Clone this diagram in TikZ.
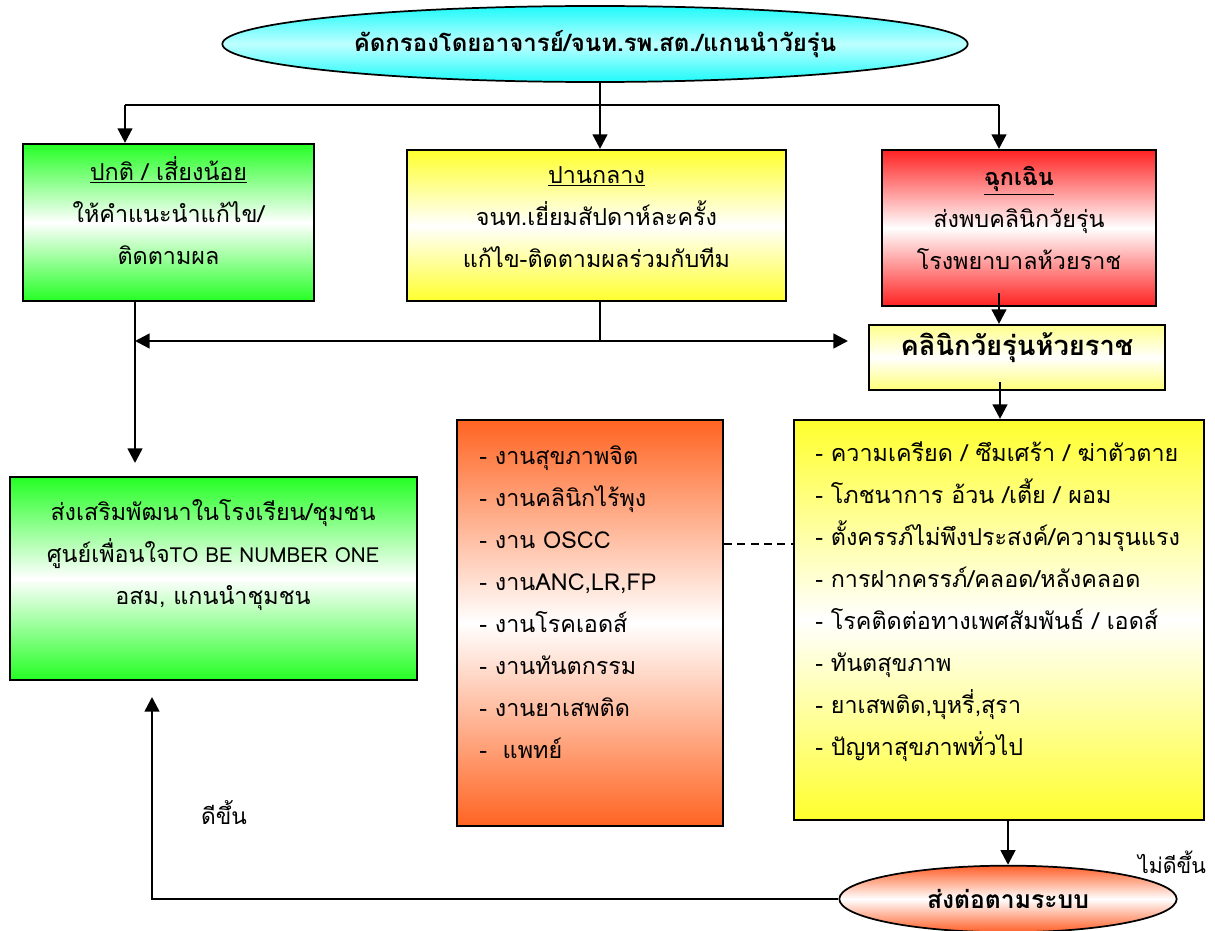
\documentclass[tikz,border=0pt]{standalone}
\usepackage{fontspec}
\setmainfont{Loma}[Script=Thai]
\usetikzlibrary{arrows.meta,fit,shapes.geometric}
\definecolor{cgreen}{RGB}{36,255,36}
\definecolor{cyellow}{RGB}{255,255,45}
\definecolor{cred}{RGB}{255,34,34}
\definecolor{corange}{RGB}{255,100,34}
\definecolor{ccyan}{RGB}{30,250,250}
\definecolor{ccyanl}{RGB}{190,255,255}
\definecolor{clight}{RGB}{255,255,140}
\definecolor{cell}{RGB}{255,95,40}
\newcommand{\lat}[1]{{\fontsize{15.5}{31.5}\selectfont #1}}
\begin{document}
\begin{tikzpicture}[x=0.75pt,y=-0.75pt,
  box/.style={draw=black, line width=1.6pt, rectangle, inner sep=0pt},
  gshade/.style={top color=cgreen, bottom color=cgreen, middle color=white},
  yshade/.style={top color=cyellow, bottom color=cyellow, middle color=white},
  rshade/.style={top color=cred, bottom color=cred, middle color=white},
  oshade/.style={top color=corange, bottom color=corange, middle color=white},
  txt/.style={font=\fontsize{17.5}{31.5}\selectfont, align=center},
  ltxt/.style={font=\fontsize{17.5}{31.5}\selectfont, align=left, anchor=west, inner sep=0pt},
  ln/.style={line width=1.9pt},
  arr/.style={line width=1.9pt, -{Triangle[width=11pt,length=11pt]}},
  dashline/.style={line width=1.3pt, dash pattern=on 6pt off 4pt}]
\useasboundingbox (0,0) rectangle (1215,931);
\clip (0,0) rectangle (1215,931);

% top ellipse
\node[ellipse, draw=black, line width=1.3pt, minimum width=559pt, minimum height=57pt,
  top color=ccyan, bottom color=ccyan, middle color=ccyanl, inner sep=0pt,
  font=\bfseries\fontsize{18}{20}\selectfont] (top) at (595,44) {\raisebox{-2pt}{คัดกรองโดยอาจารย์/จนท.รพ.สต./แกนนำวัยรุ่น}};

% three boxes
\node[box, gshade, fit={(23,144)(314,301)}, txt] (normal) {\underline{ปกติ / เสี่ยงน้อย}\\ให้คำแนะนำแก้ไข/\\ติดตามผล};
\node[box, yshade, fit={(407,150)(786,301)}, txt] (mid) {\underline{ปานกลาง}\\จนท.เยี่ยมสัปดาห์ละครั้ง\\แก้ไข-ติดตามผลร่วมกับทีม};
\node[box, rshade, fit={(882,150)(1156,306)}, txt] (emer) {\underline{\textbf{ฉุกเฉิน}}\\ส่งพบคลินิกวัยรุ่น\\โรงพยาบาลห้วยราช};

% clinic
\node[box, top color=clight, bottom color=clight!80!cyellow, middle color=white, fit={(869,325)(1165,390)},
  font=\bfseries\fontsize{20.5}{24}\selectfont] (clinic) {\raisebox{-3pt}{คลินิกวัยรุ่นห้วยราช}};

% promotion box
\node[box, gshade, fit={(10,477)(417,680)}] (promo) {};
\node[txt, anchor=center] (promotxt) at (213,555) {ส่งเสริมพัฒนาในโรงเรียน/ชุมชน\\ศูนย์เพื่อนใจ\lat{TO BE NUMBER ONE}\\อสม, แกนนำชุมชน};

% orange list
\node[box, oshade, fit={(457,420)(723,826)}] (work) {};
\node[ltxt] (worktxt) at (479,602) {- งานสุขภาพจิต\\- งานคลินิกไร้พุง\\- งาน OSCC\\- งานANC,LR,FP\\- งานโรคเอดส์\\- งานทันตกรรม\\- งานยาเสพติด\\-\ \ แพทย์};

% yellow list
\node[box, yshade, fit={(794,420)(1204,820)}] (list) {};
\node[ltxt] (listtxt) at (815,602) {- ความเครียด / ซึมเศร้า / ฆ่าตัวตาย\\- โภชนาการ อ้วน /เตี้ย / ผอม\\- ตั้งครรภ์ไม่พึงประสงค์/ความรุนแรง\\- การฝากครรภ์/คลอด/หลังคลอด\\- โรคติดต่อทางเพศสัมพันธ์ / เอดส์\\- ทันตสุขภาพ\\- ยาเสพติด,บุหรี่,สุรา\\- ปัญหาสุขภาพทั่วไป};

% bottom ellipse
\node[ellipse, draw=black, line width=1.3pt, minimum width=253pt, minimum height=50pt,
  top color=cell, bottom color=cell, middle color=white, inner sep=0pt,
  font=\bfseries\fontsize{18.5}{20}\selectfont] (refer) at (1008,899) {\raisebox{-6pt}{ส่งต่อตามระบบ}};

% labels
\node[font=\fontsize{17}{18}\selectfont, inner sep=0pt] (better) at (224,813) {ดีขึ้น};
\node[font=\fontsize{16}{18}\selectfont, inner sep=0pt] (notbetter) at (1172,862) {ไม่ดีขึ้น};

% coordinates
\coordinate (busL) at (125,105);
\coordinate (busC) at (600,105);
\coordinate (busR) at (999,105);
\coordinate (mj) at (600,341);
\coordinate (lj) at (135,341);
\coordinate (rj) at (848,341);
\coordinate (pdown) at (135,463);
\coordinate (e1) at (999,293);
\coordinate (c1) at (1000,382);
\coordinate (up) at (152,697);
\coordinate (dy) at (0,544);

% connectors
\draw[ln] (busL) -- (busR);
\draw[arr] (busC |- top.south) -- (busC |- mid.north);
\draw[arr] (busL) -- (busL |- normal.north);
\draw[arr] (busR) -- (busR |- emer.north);
\draw[arr] (e1) -- (e1 |- clinic.north);
\draw[arr] (c1) -- (c1 |- list.north);
\draw[ln] (mj |- mid.south) -- (mj);
\draw[arr] (mj) -- (lj);
\draw[arr] (mj) -- (rj);
\draw[arr] (lj |- normal.south) -- (pdown);
\draw[dashline] (work.east |- dy) -- (list.west |- dy);
\draw[arr] (list.south -| refer.north) -- (refer.north);
\draw[arr] (refer.west) -| (up);
\end{tikzpicture}
\end{document}
